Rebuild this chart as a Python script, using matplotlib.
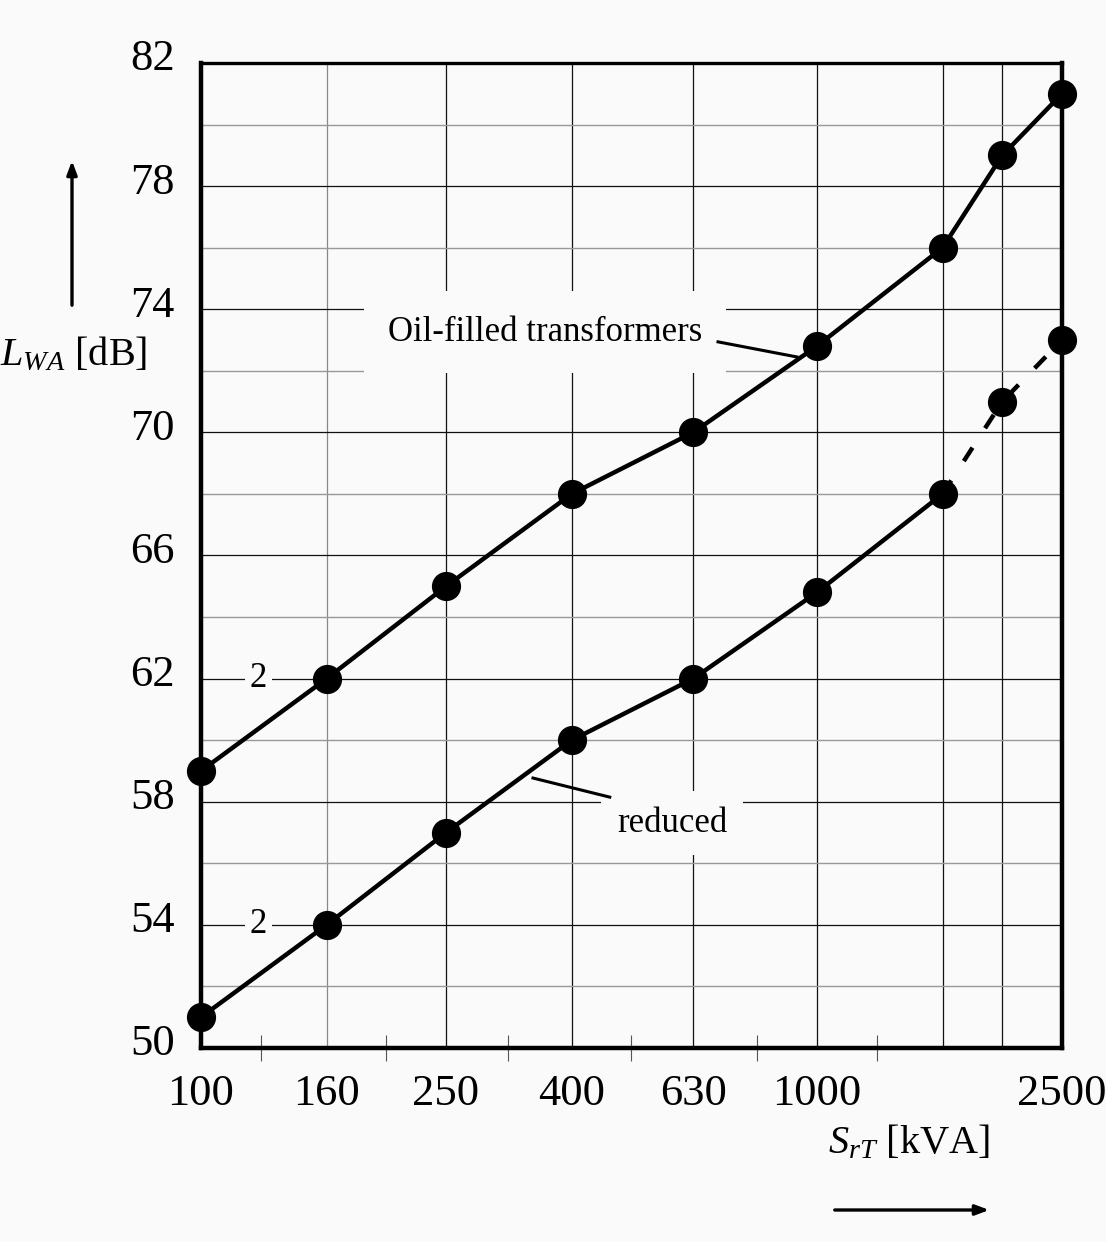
import numpy as np
import matplotlib
matplotlib.use('Agg')
import matplotlib.pyplot as plt
from matplotlib.patches import FancyArrowPatch
from matplotlib.ticker import FixedLocator, FixedFormatter, NullFormatter
from matplotlib.transforms import ScaledTranslation

# data
power_kva = [100, 160, 250, 400, 630, 1000, 1600, 2000, 2500]
oil_filled = [59, 62, 65, 68, 70, 72.8, 76, 79, 81]
reduced = [51, 54, 57, 60, 62, 64.8, 68, 71, 73]
x_labels = ['100', '160', '250', '400', '630', '1000', '', '', '2500']
x_minor = [125, 200, 315, 500, 800, 1250]
y_major = [50, 54, 58, 62, 66, 70, 74, 78, 82]
y_minor = [52, 56, 60, 64, 68, 72, 76, 80]

bg = '#fafafa'
plt.rcParams['font.family'] = ['Liberation Serif', 'DejaVu Serif']
plt.rcParams['mathtext.fontset'] = 'custom'
plt.rcParams['mathtext.rm'] = 'Liberation Serif'
plt.rcParams['mathtext.it'] = 'Liberation Serif:italic'

fig = plt.figure(figsize=(11.06, 12.42), dpi=100, facecolor=bg)
ax = fig.add_axes([0.1817, 0.1562, 0.9602 - 0.1817, 0.9493 - 0.1562], facecolor=bg)

ax.set_xscale('log')
ax.set_xlim(100, 2500)
ax.set_ylim(50, 82)

ax.xaxis.set_major_locator(FixedLocator(power_kva))
ax.xaxis.set_major_formatter(FixedFormatter(x_labels))
ax.xaxis.set_minor_locator(FixedLocator(x_minor))
ax.xaxis.set_minor_formatter(NullFormatter())
ax.yaxis.set_major_locator(FixedLocator(y_major))
ax.yaxis.set_minor_locator(FixedLocator(y_minor))

ax.tick_params(axis='x', which='major', length=0, pad=19, labelsize=32)
ax.tick_params(axis='x', which='minor', length=19, width=0.8, direction='inout', color='#555555')
ax.tick_params(axis='y', which='both', length=0, pad=19, labelsize=32)
for lab in ax.get_yticklabels():
    lab.set_transform(lab.get_transform() + ScaledTranslation(0, 8 / 100, fig.dpi_scale_trans))

ax.grid(True, which='major', axis='x', color='#111111', lw=0.9)
ax.grid(True, which='major', axis='y', color='#111111', lw=0.9)
ax.grid(True, which='minor', axis='y', color='#999999', lw=1.0)
ax.xaxis.get_gridlines()[1].set_color('#888888')
ax.set_axisbelow(True)

for s in ax.spines.values():
    s.set_linewidth(3.2)
    s.set_color('black')
ax.spines['top'].set_linewidth(2.4)

# curves
ax.plot(power_kva, oil_filled, color='black', lw=3.2, marker='o', ms=20,
        clip_on=False, zorder=5)
ax.plot(power_kva[:7], reduced[:7], color='black', lw=3.2, zorder=5)
ax.plot(power_kva[6:], reduced[6:], color='black', lw=3.2, ls=(0, (3.6, 5.2)), zorder=5)
ax.plot(power_kva, reduced, ls='none', marker='o', ms=20, color='black',
        clip_on=False, zorder=6)

# annotations
ax.text(10 ** (2 + 0.3995 * np.log10(25)), 73.26, 'Oil-filled transformers',
        fontsize=25, ha='center', va='center', zorder=4,
        bbox=dict(boxstyle='square,pad=0.7', fc=bg, ec='none'))
ax.plot([691, 928], [72.94, 72.45], color='black', lw=2.2, zorder=4)

ax.text(10 ** (2 + 0.547 * np.log10(25)), 57.3, 'reduced',
        fontsize=25, ha='center', va='center', zorder=4,
        bbox=dict(boxstyle='square,pad=0.45', fc=bg, ec='none'))
ax.plot([346, 461], [58.77, 58.15], color='black', lw=2.2, zorder=4)

for yv in (62, 54):
    ax.text(124, yv, '2', fontsize=25, ha='center', va='center', zorder=4,
            bbox=dict(boxstyle='square,pad=0.15', fc=bg, ec='none'))

# axis labels with arrows
fig.text(74 / 1106, 1 - 355 / 1242, r'$L_{WA}$ [dB]', fontsize=29, ha='center', va='center')
fig.patches.append(FancyArrowPatch(
    (72 / 1106, 1 - 308 / 1242), (72 / 1106, 1 - 158 / 1242), transform=fig.transFigure,
    arrowstyle='-|>,head_length=8,head_width=3', mutation_scale=1, lw=2.4, color='black'))

fig.text(909 / 1106, 1 - 1143 / 1242, r'$S_{rT}$ [kVA]', fontsize=29, ha='center', va='center')
fig.patches.append(FancyArrowPatch(
    (832 / 1106, 1 - 1210 / 1242), (992 / 1106, 1 - 1210 / 1242), transform=fig.transFigure,
    arrowstyle='-|>,head_length=8,head_width=3', mutation_scale=1, lw=2.4, color='black'))

plt.savefig('out.png', dpi=100, facecolor=bg)
plt.close()
